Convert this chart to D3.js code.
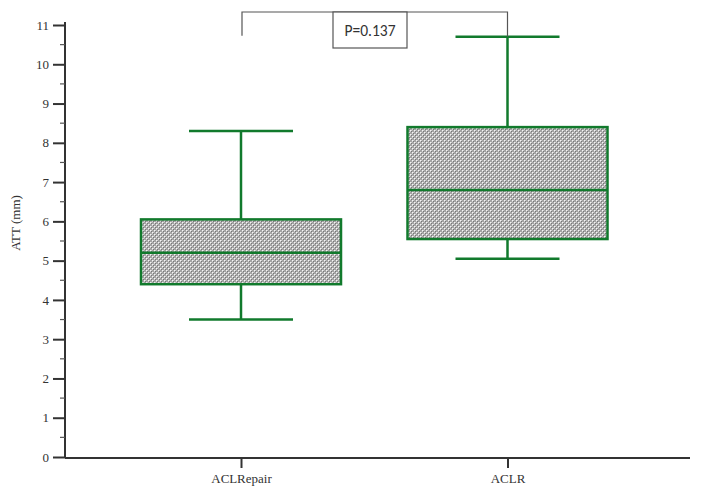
<!DOCTYPE html>
<html><head><meta charset="utf-8">
<script src="https://cdn.jsdelivr.net/npm/d3@7"></script>
<style>body{margin:0;background:#fff}</style>
</head><body>
<svg id="c" width="706" height="502"></svg>
<script>
const categories = ["ACL Repair", "ACLR"];
const whiskerLow = [3.5, 5.05];
const q1 = [4.4, 5.55];
const median = [5.2, 6.8];
const q3 = [6.05, 8.4];
const whiskerHigh = [8.3, 10.7];
const yTicks = [0,1,2,3,4,5,6,7,8,9,10,11];
const pLabel = "P=0.137";

const svg = d3.select("#c");
const green = "#117a2c";
const serif = "Liberation Serif, Times New Roman, serif";
const y = d3.scaleLinear().domain([0, 11]).range([457, 25]);
const x = d3.scalePoint().domain(categories).range([241, 507.5]);

// pattern
const defs = svg.append("defs");
const pat = defs.append("pattern").attr("id","hatch").attr("patternUnits","userSpaceOnUse")
  .attr("width",4).attr("height",4);
pat.append("rect").attr("width",4).attr("height",4).attr("fill","#a4a4a4");
[[0,0,"#f4f4f4"],[2,2,"#f4f4f4"],[1,0,"#cfcfcf"],[0,1,"#cfcfcf"],[3,2,"#cfcfcf"],[2,3,"#cfcfcf"],[1,1,"#777"],[3,3,"#777"]]
  .forEach(([px,py,c])=>pat.append("rect").attr("x",px).attr("y",py).attr("width",1).attr("height",1).attr("fill",c));

// y axis
const yAxis = d3.axisLeft(y).tickValues(yTicks).tickSize(12).tickPadding(4).tickFormat(d3.format("d"));
const yg = svg.append("g").attr("transform","translate(65,0)").call(yAxis);
yg.select(".domain").attr("stroke","#333").attr("stroke-width",2).attr("d","M0,457V22");
yg.selectAll(".tick line").attr("stroke","#333").attr("stroke-width",2);
yg.selectAll(".tick text").attr("font-family",serif).attr("font-size",13).attr("fill","#333");
const minor = d3.range(0.5, 11, 1);
yg.selectAll(".minor").data(minor).enter().append("line")
  .attr("x1",-5).attr("x2",0).attr("y1",d=>y(d)).attr("y2",d=>y(d))
  .attr("stroke","#555").attr("stroke-width",1.2);

// x axis
const xAxis = d3.axisBottom(x).tickSize(10).tickPadding(6);
const xg = svg.append("g").attr("transform","translate(0,458)").call(xAxis);
xg.select(".domain").attr("stroke","#333").attr("stroke-width",2).attr("d","M65,0H690");
xg.selectAll(".tick line").attr("stroke","#333").attr("stroke-width",2);
xg.selectAll(".tick text").attr("font-family",serif).attr("font-size",13).attr("fill","#333")
  .attr("word-spacing","-3px");

// y label
svg.append("text").attr("transform","translate(20,223) rotate(-90)").attr("text-anchor","middle")
  .attr("font-family",serif).attr("font-size",13).attr("fill","#333").text("ATT (mm)");

// boxes
const boxHalf = 100, capHalf = 52;
const data = categories.map((c,i)=>({c, lo:whiskerLow[i], q1:q1[i], med:median[i], q3:q3[i], hi:whiskerHigh[i]}));
const g = svg.append("g");
data.forEach(d=>{
  const cx = x(d.c);
  const ln = (x1,x2,y1,y2)=>g.append("line").attr("x1",x1).attr("x2",x2).attr("y1",y1).attr("y2",y2).attr("stroke",green).attr("stroke-width",2.5);
  ln(cx,cx,y(d.hi),y(d.q3));
  ln(cx,cx,y(d.q1),y(d.lo));
  ln(cx-capHalf,cx+capHalf,y(d.hi),y(d.hi));
  ln(cx-capHalf,cx+capHalf,y(d.lo),y(d.lo));
  g.append("rect").attr("x",cx-boxHalf).attr("width",2*boxHalf).attr("y",y(d.q3)).attr("height",y(d.q1)-y(d.q3))
    .attr("fill","url(#hatch)").attr("stroke",green).attr("stroke-width",2.5);
  ln(cx-boxHalf,cx+boxHalf,y(d.med),y(d.med));
});

// significance bracket
const by = 12;
const br = svg.append("g").attr("stroke","#555").attr("stroke-width",1.2).attr("fill","none");
br.append("path").attr("d",`M${x(categories[0])+1},${y(10.7)-1}V${by}H${x(categories[1])}V${y(whiskerHigh[1])}`);
br.append("rect").attr("x",333).attr("y",by).attr("width",74).attr("height",36).attr("fill","#fff");
svg.append("text").attr("x",370).attr("y",36).attr("text-anchor","middle")
  .attr("font-family","Carlito, Liberation Sans, Arial, sans-serif").attr("font-size",15.5).attr("fill","#333").text(pLabel);
</script>
</body></html>
